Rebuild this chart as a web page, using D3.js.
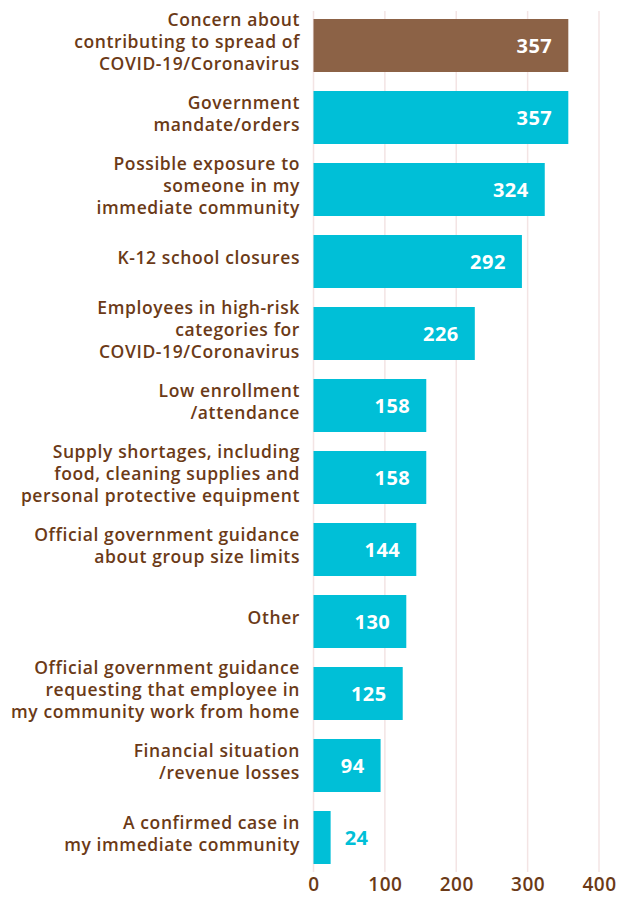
<!DOCTYPE html>
<html>
<head>
<meta charset="utf-8">
<script src="https://cdn.jsdelivr.net/npm/d3@7"></script>
<style>
  html, body { margin: 0; padding: 0; background: #ffffff; }
  svg { display: block; }
</style>
</head>
<body>
<svg id="chart" width="619" height="898"></svg>
<script>
const categories = [
  ["Concern about", "contributing to spread of", "COVID-19/Coronavirus"],
  ["Government", "mandate/orders"],
  ["Possible exposure to", "someone in my", "immediate community"],
  ["K-12 school closures"],
  ["Employees in high-risk", "categories for", "COVID-19/Coronavirus"],
  ["Low enrollment", "/attendance"],
  ["Supply shortages, including", "food, cleaning supplies and", "personal protective equipment"],
  ["Official government guidance", "about group size limits"],
  ["Other"],
  ["Official government guidance", "requesting that employee in", "my community work from home"],
  ["Financial situation", "/revenue losses"],
  ["A confirmed case in", "my immediate community"]
];
const values = [357, 357, 324, 292, 226, 158, 158, 144, 130, 125, 94, 24];
const highlighted = [true, false, false, false, false, false, false, false, false, false, false, false];
const tickValues = [0, 100, 200, 300, 400];

const svg = d3.select("#chart");
const brown = "#6b3a17";
const barBrown = "#8c6246";
const cyan = "#00bfd7";
const grid = "#f3e4e4";
const fontFam = "'Open Sans', 'Noto Sans', sans-serif";

const x = d3.scaleLinear().domain([0, 400]).range([313.5, 599]);
const y = d3.scaleBand()
  .domain(d3.range(values.length))
  .range([9.5, 873.5])
  .paddingInner(0.264)
  .paddingOuter(0.132);

// gridlines
svg.append("g")
  .selectAll("line")
  .data(tickValues)
  .join("line")
  .attr("x1", d => x(d)).attr("x2", d => x(d))
  .attr("y1", 11).attr("y2", 872)
  .attr("stroke", grid).attr("stroke-width", 1.5);

// bars
svg.append("g")
  .selectAll("rect")
  .data(values)
  .join("rect")
  .attr("x", x(0))
  .attr("y", (d, i) => y(i))
  .attr("width", d => x(d) - x(0))
  .attr("height", y.bandwidth())
  .attr("fill", (d, i) => highlighted[i] ? barBrown : cyan);

// value labels
svg.append("g")
  .selectAll("text")
  .data(values)
  .join("text")
  .attr("x", d => (x(d) - x(0) > 50) ? x(d) - 16 : x(d) + 14)
  .attr("y", (d, i) => y(i) + y.bandwidth() / 2)
  .attr("dy", "0.36em")
  .attr("text-anchor", d => (x(d) - x(0) > 50) ? "end" : "start")
  .attr("font-family", fontFam)
  .attr("font-weight", 700)
  .attr("font-size", 20)
  .attr("letter-spacing", 0.5)
  .attr("fill", d => (x(d) - x(0) > 50) ? "#ffffff" : cyan)
  .text(d => d);

// category labels
const lineH = 22;
const labelG = svg.append("g");
categories.forEach((lines, i) => {
  const cy = y(i) + y.bandwidth() / 2;
  const t = labelG.append("text")
    .attr("text-anchor", "end")
    .attr("font-family", fontFam)
    .attr("font-weight", 600)
    .attr("font-size", 17.5)
    .attr("letter-spacing", 0.6)
    .attr("fill", brown);
  lines.forEach((ln, j) => {
    t.append("tspan")
      .attr("x", 300)
      .attr("y", cy + (j - (lines.length - 1) / 2) * lineH + 2.5)
      .text(ln);
  });
});

// x axis tick labels
const axis = d3.axisBottom(x).tickValues(tickValues).tickSize(0).tickPadding(0);
const ax = svg.append("g").attr("transform", "translate(0,878)").call(axis);
ax.select(".domain").remove();
ax.selectAll("text")
  .attr("font-family", fontFam)
  .attr("font-weight", 600)
  .attr("font-size", 19)
  .attr("letter-spacing", 0.5)
  .attr("fill", brown)
  .attr("dy", "0.7em");
</script>
</body>
</html>
